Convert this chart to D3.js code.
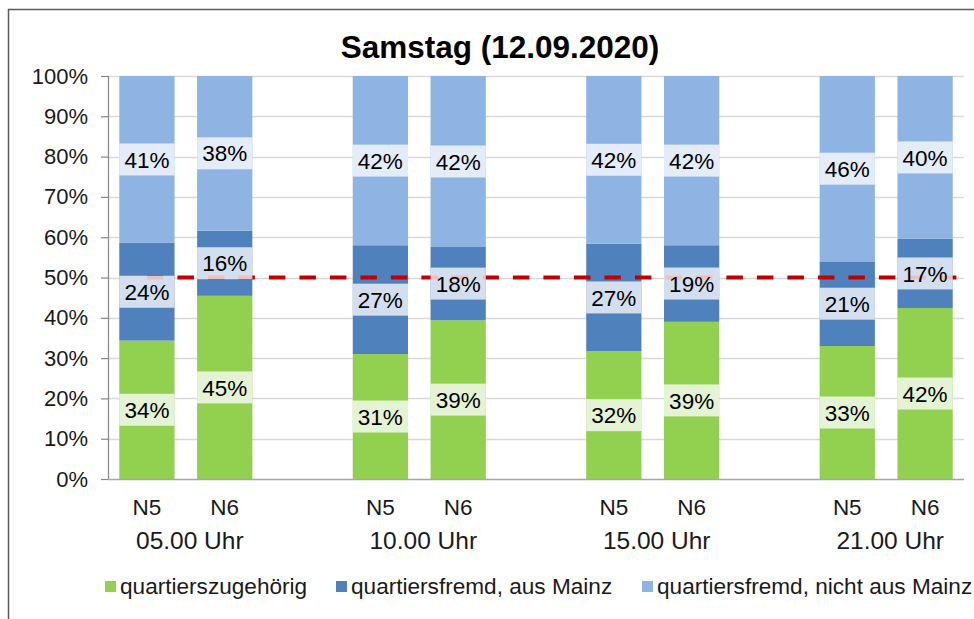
<!DOCTYPE html>
<html>
<head>
<meta charset="utf-8">
<script src="https://cdn.jsdelivr.net/npm/d3@7"></script>
<style>
  html, body { margin: 0; padding: 0; background: #fff; }
  svg { display: block; font-family: "Liberation Sans", Arial, sans-serif; }
</style>
</head>
<body>
<svg id="chart" width="974" height="619"></svg>
<script>
// ---- data ----
const title = "Samstag (12.09.2020)";
const groups = ["05.00 Uhr", "10.00 Uhr", "15.00 Uhr", "21.00 Uhr"];
const stations = ["N5", "N6"];
const seriesNames = ["quartierszugehörig", "quartiersfremd, aus Mainz", "quartiersfremd, nicht aus Mainz"];
// values in percent, order: 05 N5, 05 N6, 10 N5, 10 N6, 15 N5, 15 N6, 21 N5, 21 N6
const quartierszugehoerig = [34, 45, 31, 39, 32, 39, 33, 42];
const fremdAusMainz      = [24, 16, 27, 18, 27, 19, 21, 17];
const fremdNichtMainz    = [41, 38, 42, 42, 42, 42, 46, 40];
const yTicks = [0, 0.1, 0.2, 0.3, 0.4, 0.5, 0.6, 0.7, 0.8, 0.9, 1.0];
const referenceLine = 0.5;

const colors = ["#92D050", "#4F81BD", "#8EB4E3"];

// ---- build table ----
const rows = [];
groups.forEach((g, gi) => {
  stations.forEach((s, si) => {
    const i = gi * 2 + si;
    rows.push({
      slot: "s" + (gi * 3 + si),
      group: g, station: s,
      [seriesNames[0]]: quartierszugehoerig[i],
      [seriesNames[1]]: fremdAusMainz[i],
      [seriesNames[2]]: fremdNichtMainz[i]
    });
  });
});
const slotCount = groups.length * 3 - 1;
const slots = d3.range(slotCount).map(i => "s" + i);

const stack = d3.stack().keys(seriesNames).offset(d3.stackOffsetExpand);
const stacked = stack(rows);

// ---- layout ----
const svg = d3.select("#chart");
const plotLeft = 108, plotRight = 964, plotTop = 76, plotBottom = 479;

const x = d3.scaleBand().domain(slots).range([plotLeft, plotRight]).paddingInner(0.29).paddingOuter(0.145);
const y = d3.scaleLinear().domain([0, 1]).range([plotBottom, plotTop]);

// chart border
svg.append("rect")
  .attr("x", 8.5).attr("y", 9.5).attr("width", 1100).attr("height", 800)
  .attr("fill", "none").attr("stroke", "#595959").attr("stroke-width", 1.5);

// title
svg.append("text")
  .attr("x", 500).attr("y", 58)
  .attr("text-anchor", "middle")
  .attr("font-size", 31.5).attr("font-weight", "bold").attr("fill", "#000")
  .text(title);

// gridlines
svg.append("g").selectAll("line").data(yTicks.filter(t => t > 0)).join("line")
  .attr("x1", plotLeft).attr("x2", plotRight)
  .attr("y1", d => Math.round(y(d)) + 0.5).attr("y2", d => Math.round(y(d)) + 0.5)
  .attr("stroke", "#d9d9d9").attr("stroke-width", 1.5);

// y axis
const yAxis = d3.axisLeft(y).tickValues(yTicks).tickFormat(d3.format(".0%")).tickSize(7).tickPadding(13);
const yg = svg.append("g").attr("transform", `translate(${plotLeft},0)`).call(yAxis);
yg.select(".domain").attr("stroke", "#868686").attr("stroke-width", 1.2);
yg.selectAll(".tick line").attr("stroke", "#868686").attr("stroke-width", 1.2);
yg.selectAll(".tick text").attr("font-size", 22).attr("fill", "#1a1a1a")
  .attr("font-family", "'Liberation Sans', Arial, sans-serif");

// bars
const barG = svg.append("g");
stacked.forEach((layer, li) => {
  barG.append("g").attr("fill", colors[li])
    .selectAll("rect").data(layer).join("rect")
    .attr("x", d => x(d.data.slot))
    .attr("width", x.bandwidth())
    .attr("y", d => y(d[1]))
    .attr("height", d => y(d[0]) - y(d[1]));
});

// bottom axis line
svg.append("line")
  .attr("x1", plotLeft).attr("x2", plotRight).attr("y1", plotBottom + 0.5).attr("y2", plotBottom + 0.5)
  .attr("stroke", "#a6a6a6").attr("stroke-width", 1.5);

// reference line
svg.append("line")
  .attr("x1", x("s0") + x.bandwidth() / 2).attr("x2", plotRight - 1)
  .attr("y1", y(referenceLine)).attr("y2", y(referenceLine))
  .attr("stroke", "#C00000").attr("stroke-width", 4)
  .attr("stroke-dasharray", "16.5,14");

// data labels
const labelG = svg.append("g");
stacked.forEach((layer, li) => {
  const g = labelG.append("g");
  const items = g.selectAll("g").data(layer).join("g")
    .attr("transform", d => `translate(${x(d.data.slot) + x.bandwidth() / 2},${y((d[0] + d[1]) / 2)})`);
  items.append("rect")
    .attr("x", -x.bandwidth() / 2).attr("width", x.bandwidth())
    .attr("y", -16).attr("height", 32)
    .attr("fill", "#fff").attr("fill-opacity", 0.75);
  items.append("text")
    .attr("text-anchor", "middle").attr("dy", "0.36em")
    .attr("font-size", 22.5).attr("fill", "#000")
    .text(d => d.data[seriesNames[li]] + "%");
});

// x labels: stations
svg.append("g").selectAll("text").data(rows).join("text")
  .attr("x", d => x(d.slot) + x.bandwidth() / 2).attr("y", 515)
  .attr("text-anchor", "middle").attr("font-size", 22.5).attr("fill", "#1a1a1a")
  .text(d => d.station);

// x labels: groups
svg.append("g").selectAll("text").data(groups).join("text")
  .attr("x", (d, gi) => (x("s" + (gi * 3)) + x("s" + (gi * 3 + 1)) + x.bandwidth()) / 2 + 4)
  .attr("y", 549)
  .attr("text-anchor", "middle").attr("font-size", 24.5).attr("fill", "#1a1a1a")
  .text(d => d);

// legend
const legendX = [105, 336, 642];
const lg = svg.append("g").selectAll("g").data(seriesNames).join("g")
  .attr("transform", (d, i) => `translate(${legendX[i]},0)`);
lg.append("rect").attr("x", 0).attr("y", 581).attr("width", 11).attr("height", 11)
  .attr("fill", (d, i) => colors[i]);
lg.append("text").attr("x", 15).attr("y", 594)
  .attr("font-size", 22.6).attr("fill", "#1a1a1a")
  .text(d => d);
</script>
</body>
</html>
